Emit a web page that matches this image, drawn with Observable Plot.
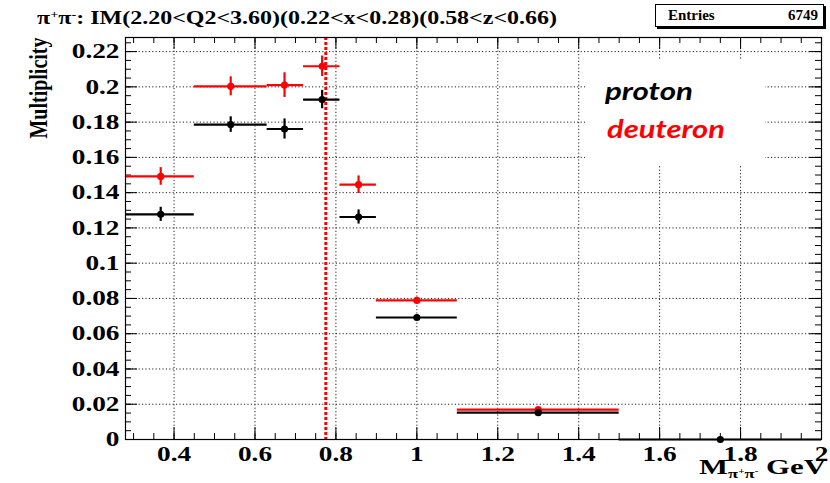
<!DOCTYPE html>
<html>
<head>
<meta charset="utf-8">
<script src="https://cdn.jsdelivr.net/npm/d3@7"></script>
<script src="https://cdn.jsdelivr.net/npm/@observablehq/plot@0.6"></script>
<style>
  body { margin: 0; background: #fff; }
  #wrap { position: relative; width: 830px; height: 483px; overflow: hidden;
          font-family: "Liberation Serif", "Times New Roman", serif; font-weight: bold; color: #000; }
  #wrap > svg { position: absolute; left: 0; top: 0; }
  .fit { position: absolute; white-space: nowrap; transform-origin: 0 0; line-height: 1; }
  .fit sup { font-size: 0.6em; vertical-align: 0.55em; line-height: 0; }
  .fit sub { font-size: 0.6em; vertical-align: -0.3em; line-height: 0; }
  #title { left: 37px; top: 8px; font-size: 19px; }
  #entries { position: absolute; left: 655px; top: 4px; width: 169px; height: 23px;
             border: 1px solid #000; box-shadow: 2px 2px 0 #000; background: #fff;
             font-size: 15px; display: flex; justify-content: space-between; align-items: center;
             padding: 0 5px 0 12px; box-sizing: border-box; }
  #xlabel { left: 699px; top: 457px; font-size: 20px; }
  #legend { position: absolute; left: 585px; top: 60px; width: 180px; height: 105px; background: #fff; }
  .lg { position: absolute; font-family: Lato, "Open Sans", "Noto Sans", sans-serif;
        font-style: italic; font-weight: bold; font-size: 25px; white-space: nowrap;
        transform-origin: 0 0; line-height: 1; }
</style>
</head>
<body>
<div id="wrap"></div>
<script>
// Invariant-mass bins (GeV): bin centre and bin edges
const massBins = [0.367, 0.54, 0.673, 0.766, 0.856, 1.0, 1.3, 1.75];
const binLow   = [0.28, 0.45, 0.63, 0.72, 0.81, 0.90, 1.10, 1.50];
const binHigh  = [0.45, 0.63, 0.72, 0.81, 0.90, 1.10, 1.50, 2.00];

// pi+ pi- multiplicities with statistical errors
const protonMult   = [0.1277, 0.1786, 0.1761, 0.1928, 0.1262, 0.0692, 0.0152, 0];
const protonErr    = [0.0040, 0.0044, 0.0057, 0.0052, 0.0040, 0.0012, 0.0010, 0];
const deuteronMult = [0.1492, 0.2003, 0.2010, 0.2117, 0.1445, 0.0789, 0.0169];
const deuteronErr  = [0.0050, 0.0054, 0.0070, 0.0058, 0.0050, 0.0014, 0.0012];

// rho(770) mass marker
const rhoMass = 0.775;
const entries = 6749;

// Axis tick labels
const xTickLabels = ["0.4", "0.6", "0.8", "1", "1.2", "1.4", "1.6", "1.8", "2"];
const yTickLabels = ["0", "0.02", "0.04", "0.06", "0.08", "0.1", "0.12", "0.14", "0.16", "0.18", "0.2", "0.22"];

const xTicks = xTickLabels.map(Number);
const yTicks = yTickLabels.map(Number);
const xMinor = d3.range(0.30, 2.001, 0.05).map(v => +v.toFixed(2));
const yMinor = d3.range(0, 0.2251, 0.005).map(v => +v.toFixed(3));

const rows = (mult, err) => mult.map((y, i) => ({
  m: massBins[i], lo: binLow[i], hi: binHigh[i], y, e: err[i]
}));
const proton = rows(protonMult, protonErr);
const deuteron = rows(deuteronMult, deuteronErr);

const W = 830, H = 483;
const mL = 125, mR = 9, mT = 37, mB = 44;
const frameW = W - mL - mR, frameH = H - mT - mB;
const majorLen = 12, minorLen = 6;

function series(data, color) {
  return [
    Plot.ruleY(data, {y: "y", x1: "lo", x2: "hi", stroke: color, strokeWidth: 2.2}),
    Plot.ruleX(data, {x: "m", y1: d => d.y - d.e, y2: d => d.y + d.e, stroke: color, strokeWidth: 2.2}),
    Plot.dot(data, {x: "m", y: "y", r: 3.6, fill: color, stroke: "none"})
  ];
}

const dotted = {stroke: "#222", strokeWidth: 1, strokeDasharray: "1.2,2.2"};

const chart = Plot.plot({
  width: W, height: H,
  marginLeft: mL, marginRight: mR, marginTop: mT, marginBottom: mB,
  style: {fontFamily: "'Liberation Serif', 'Times New Roman', serif", fontSize: "21px", fontWeight: "bold", background: "transparent", color: "#000"},
  x: {domain: [0.28, 2.0], label: null},
  y: {domain: [0, 0.228], label: null},
  marks: [
    // dotted grid at major ticks
    Plot.ruleX(xTicks.filter(v => v < 2), {x: d => d, ...dotted}),
    Plot.ruleY(yTicks.filter(v => v > 0), {y: d => d, ...dotted}),
    // inward ticks on all four sides
    Plot.tickX(xMinor, {x: d => d, stroke: "#000", insetTop: frameH - minorLen}),
    Plot.tickX(xTicks, {x: d => d, stroke: "#000", insetTop: frameH - majorLen}),
    Plot.tickX(xMinor, {x: d => d, stroke: "#000", insetBottom: frameH - minorLen}),
    Plot.tickX(xTicks, {x: d => d, stroke: "#000", insetBottom: frameH - majorLen}),
    Plot.tickY(yMinor, {y: d => d, stroke: "#000", insetRight: frameW - minorLen}),
    Plot.tickY(yTicks, {y: d => d, stroke: "#000", insetRight: frameW - majorLen}),
    Plot.tickY(yMinor, {y: d => d, stroke: "#000", insetLeft: frameW - minorLen}),
    Plot.tickY(yTicks, {y: d => d, stroke: "#000", insetLeft: frameW - majorLen}),
    // rho mass line
    Plot.ruleX([rhoMass], {x: d => d, stroke: "#ff0000", strokeWidth: 3, strokeDasharray: "3,2"}),
    // deuteron then proton
    ...series(deuteron, "#ff0000"),
    ...series(proton, "#000000"),
    Plot.frame({stroke: "#000", strokeWidth: 1.2}),
    Plot.axisX(xTicks, {tickSize: 0, tickPadding: 7, label: null,
      tickFormat: d => xTickLabels[xTicks.indexOf(d)]}),
    Plot.axisY(yTicks, {tickSize: 0, tickPadding: 6, label: null,
      tickFormat: d => yTickLabels[yTicks.indexOf(d)]}),
    Plot.text(["Multiplicity"], {frameAnchor: "top-left", text: d => d, rotate: -90,
      textAnchor: "end", lineAnchor: "bottom", dx: -79, fontSize: 20, fontWeight: "bold"})
  ]
});

const wrap = document.getElementById("wrap");
wrap.appendChild(chart);

// widen glyphs about each text's own anchor (position is carried by its transform)
function stretch(el, sx, sy) {
  const t = el.getAttribute("transform") || "";
  el.setAttribute("transform", `${t} scale(${sx},${sy})`);
}
chart.querySelectorAll('g[aria-label="x-axis tick label"] text, g[aria-label="y-axis tick label"] text')
  .forEach(t => stretch(t, 1.3, 1));
chart.querySelectorAll('g[aria-label="text"] text').forEach(t => stretch(t, 1, 1.3));

// title, statistics box, axis title and legend
wrap.insertAdjacentHTML("beforeend", `
  <div id="title" class="fit">π<sup>+</sup>π<sup>-</sup>: IM(2.20&lt;Q2&lt;3.60)(0.22&lt;x&lt;0.28)(0.58&lt;z&lt;0.66)</div>
  <div id="entries"><span>Entries</span><span>${entries}</span></div>
  <div id="xlabel" class="fit">M<sub>π<sup>+</sup>π<sup>-</sup></sub> GeV</div>
  <div id="legend">
    <div class="lg" id="lgP" style="left:20px;top:18px;color:#000">proton</div>
    <div class="lg" id="lgD" style="left:22px;top:56px;color:#ff0000">deuteron</div>
  </div>`);

function fitWidth(id, w) {
  const el = document.getElementById(id);
  const r = el.getBoundingClientRect().width;
  el.style.transform = `scaleX(${w / r})`;
}
fitWidth("title", 520);
fitWidth("xlabel", 127);
fitWidth("lgP", 88);
fitWidth("lgD", 118);
</script>
</body>
</html>
